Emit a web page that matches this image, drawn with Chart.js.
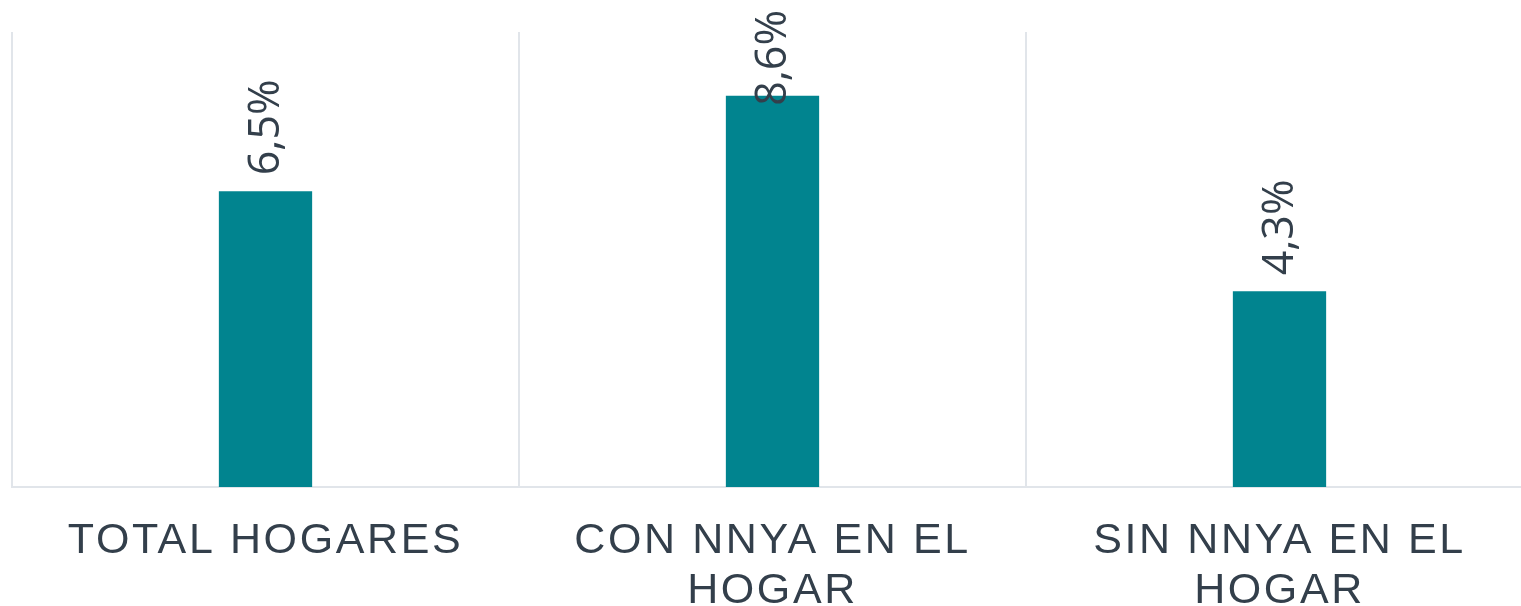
<!DOCTYPE html>
<html>
<head>
<meta charset="utf-8">
<script src="https://cdn.jsdelivr.net/npm/chart.js@4"></script>
<style>
  html, body { margin: 0; padding: 0; background: #fff; overflow: hidden; }
  #wrap { width: 1534px; height: 606px; position: relative; }
</style>
</head>
<body>
<div id="wrap"><canvas id="hogaresChart"></canvas></div>
<script>
const categories = [['TOTAL HOGARES'], ['CON NNYA EN EL', 'HOGAR'], ['SIN NNYA EN EL', 'HOGAR']];
const values = [6.5, 8.6, 4.3];

const textColor = '#333f4b';
const barColor = '#01848f';

// labels above bars, rotated, comma decimal
const barLabels = {
    id: 'barLabels',
    afterDatasetsDraw(chart) {
        const ctx = chart.ctx;
        const meta = chart.getDatasetMeta(0);
        ctx.save();
        ctx.letterSpacing = '0px';
        ctx.font = '43px "Open Sans", sans-serif';
        ctx.fillStyle = textColor;
        ctx.textAlign = 'left';
        ctx.textBaseline = 'middle';
        meta.data.forEach(function (bar, i) {
            const txt = values[i].toFixed(1).replace('.', ',') + '%';
            const w = ctx.measureText(txt).width;
            let y = bar.y - 16;
            if (y - w < 10) y = 10 + w;
            ctx.save();
            ctx.translate(bar.x + 1, y);
            ctx.rotate(-Math.PI / 2);
            ctx.fillText(txt, 0, 0);
            ctx.restore();
        });
        ctx.restore();
    }
};

const spacing = {
    id: 'spacing',
    beforeDraw(chart) { chart.ctx.letterSpacing = '2.6px'; }
};

const ctx = document.getElementById('hogaresChart').getContext('2d');

const myChart = new Chart(ctx, {
    type: 'bar',
    data: {
        labels: categories,
        datasets: [{
            data: values,
            backgroundColor: barColor,
            categoryPercentage: 1,
            barPercentage: 0.184
        }]
    },
    options: {
        responsive: true,
        maintainAspectRatio: false,
        animation: false,
        layout: { padding: { left: 12, right: 1, top: 32, bottom: 0 } },
        scales: {
            x: {
                grid: { color: '#e1e5ea', lineWidth: 2, drawTicks: false },
                border: { color: '#e1e5ea', width: 2 },
                ticks: {
                    color: textColor,
                    padding: 29,
                    maxRotation: 0,
                    autoSkip: false,
                    font: { family: '"Liberation Sans", Arial, sans-serif', size: 43, lineHeight: 1.16 }
                },
                afterFit: function (scale) { scale.height = 119; }
            },
            y: {
                display: false,
                min: 0,
                max: 10
            }
        },
        plugins: {
            legend: { display: false },
            tooltip: { enabled: false }
        }
    },
    plugins: [spacing, barLabels]
});
</script>
</body>
</html>
